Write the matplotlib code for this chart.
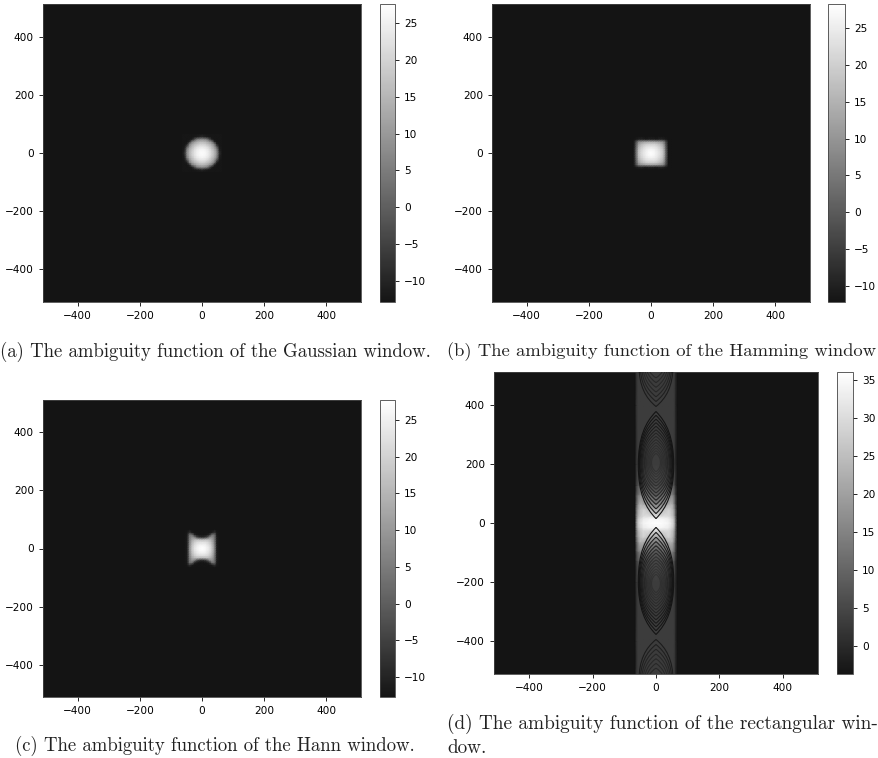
import numpy as np
import matplotlib
matplotlib.use("Agg")
import matplotlib.pyplot as plt
from matplotlib.colors import LinearSegmentedColormap
from matplotlib.path import Path
from matplotlib.patches import PathPatch

W, H = 879, 758
TICKS = [-400, -200, 0, 200, 400]

# --- values (dB), one quadrant of each symmetric blob ---
GRID_STEP = 8
gauss_db = [
    [27, 26.6, 25.5, 23, 19.5, 15, 8, -8, -12.5],
    [26.6, 26.3, 25, 22.5, 19, 14.5, 7, -10, -12.5],
    [25.5, 25, 23.5, 21, 17, 13, 5, -11, -12.5],
    [23, 22.5, 21, 18, 15, 9, -3, -12, -12.5],
    [19.5, 19, 17, 15, 11, 5, -11, -12.5, -12.5],
    [15, 14.5, 13, 9, 5, -10, -12.5, -12.5, -12.5],
    [8, 7, 5, -3, -11, -12.5, -12.5, -12.5, -12.5],
    [-8, -10, -11, -12, -12.5, -12.5, -12.5, -12.5, -12.5],
    [-12.5, -12.5, -12.5, -12.5, -12.5, -12.5, -12.5, -12.5, -12.5],
]
hamming_db = [
    [28, 27.5, 26, 24, 21.5, 17, 2, -12, -12.2],
    [27.5, 27, 25.5, 23.5, 21, 16.5, 2, -12, -12.2],
    [26, 25.5, 24.5, 22.5, 20, 15.5, 1, -12, -12.2],
    [23.5, 23.3, 22.5, 20.5, 18, 14, 0, -12, -12.2],
    [20, 19.8, 19, 17.5, 15.5, 11, -1, -12, -12.2],
    [12, 12, 11.5, 10.5, 9, 7, -3, -12, -12.2],
    [-10, -10, -11, -10, -9, -10, -11, -12, -12.2],
    [-12, -12, -12, -12, -12, -12, -12, -12.2, -12.2],
]
hann_db = [
    [27.5, 27, 25.5, 23, 18, 8, -11, -12.5],
    [27, 26.5, 25, 22.5, 17.5, 8, -11, -12.5],
    [25, 24.8, 23.5, 21, 16.5, 7, -11, -12.5],
    [22, 21.8, 21, 19, 14.5, 6, -11, -12.5],
    [15, 15.5, 16, 15, 12, 5, -11, -12.5],
    [-9, -8, -4, 6, 9, 4, -11, -12.5],
    [-12.5, -12.5, -12, -9, 3, 3, -11.5, -12.5],
    [-12.5, -12.5, -12.5, -12.5, -11, -7, -12, -12.5],
    [-12.5, -12.5, -12.5, -12.5, -12.5, -12.5, -12.5, -12.5],
]

# rectangular window: coarse level of the strip, one quadrant
rect_x = [0, 20, 40, 50, 56, 60, 63, 66]
rect_y = [0, 16, 24, 48, 64, 96, 128, 200, 400, 512]
rect_db = [
    [36, 35.5, 34, 31, 27, 20, 9, -3.7],
    [34, 34, 32.5, 29, 25, 18, 8, -3.7],
    [30, 30, 30, 27, 23, 16, 7, -3.7],
    [20, 24, 28, 25, 20, 14, 6, -3.7],
    [14, 17, 22, 23, 18, 11, 4, -3.7],
    [8, 10, 14, 15, 12, 8, 2, -3.7],
    [5, 5, 7, 8, 7, 4, 0, -3.7],
    [3, 3, 3, 3, 3, 2, -1, -3.7],
    [3, 3, 3, 3, 3, 2, -1, -3.7],
    [3, 3, 3, 3, 3, 2, -1, -3.7],
]
# dark interference rings of the rectangular window
ring_near = [15, 32, 48, 63, 77, 90, 102, 114, 125, 136, 146, 156, 165, 174,
             395, 412, 428, 444, 460, 476, 492]
ring_far = [378, 365, 352, 340, 328, 316, 305, 294, 283, 273, 263, 254, 245, 236,
            680, 670, 660, 650, 640, 630, 620]
ring_halfwidth = [56, 54, 52, 50, 47, 44, 41, 37, 34, 30, 26, 22, 18, 14,
                  54, 50, 46, 42, 38, 34, 30]
ring_alpha = [1, .95, .9, .85, .8, .7, .6, .5, .45, .4, .35, .3, .3, .3,
              .8, .7, .6, .5, .5, .5, .5]

cbar_ticks_a = [-10, -5, 0, 5, 10, 15, 20, 25]
cbar_ticks_d = [0, 5, 10, 15, 20, 25, 30, 35]
captions = {
    "a": "(a) The ambiguity function of the Gaussian window.",
    "b": "(b) The ambiguity function of the Hamming window",
    "c": "(c) The ambiguity function of the Hann window.",
    "d": "(d) The ambiguity function of the rectangular win-\ndow.",
}
ranges = {"a": (-12.9, 27.6), "b": (-12.2, 28.3), "c": (-12.7, 27.7), "d": (-3.7, 36)}

# --- layout in pixels: left, right, top, bottom ---
axes_px = {"a": (43, 361, 4, 302), "b": (492, 810, 4, 302),
           "c": (43, 361, 400, 697), "d": (494, 818, 372, 674)}
cbar_px = {"a": (380, 395), "b": (828, 845), "c": (380, 395), "d": (837, 853)}
caption_xy = {"a": (0, 351.5), "b": (447, 351.5), "c": (15, 746), "d": (447, 735.5)}
caption_size = {"a": 13.5, "b": 13.4, "c": 13.5, "d": 13.85}

plt.rcParams.update({"font.size": 7.6, "axes.linewidth": 0.6,
                     "xtick.major.size": 3, "ytick.major.size": 3,
                     "xtick.major.width": 0.6, "ytick.major.width": 0.6,
                     "axes.edgecolor": "#444444"})
cmap = LinearSegmentedColormap.from_list("dk", ["#141414", "#ffffff"])
fig = plt.figure(figsize=(W / 100, H / 100), dpi=100)


def px_axes(l, r, t, b):
    return fig.add_axes([l / W, 1 - b / H, (r - l) / W, (b - t) / H])


def full_from_quadrant(q):
    q = np.asarray(q, float)
    q = np.hstack([q[:, :0:-1], q])
    return np.vstack([q[:0:-1], q])


def rings(ax):
    for near, far, w, al in zip(ring_near, ring_far, ring_halfwidth, ring_alpha):
        mid = (near + far) / 2
        h = far - near
        for s in (1, -1):
            verts = [(0, near), (.6 * w, near + .1 * h), (w, near + .24 * h), (w, mid),
                     (w, far - .24 * h), (.6 * w, far - .1 * h), (0, far),
                     (-.6 * w, far - .1 * h), (-w, far - .24 * h), (-w, mid),
                     (-w, near + .24 * h), (-.6 * w, near + .1 * h), (0, near)]
            verts = [(x, s * y) for x, y in verts]
            codes = [Path.MOVETO] + [Path.CURVE4] * 12
            ax.add_patch(PathPatch(Path(verts, codes), fc="none", ec="#141414",
                                   lw=0.8, alpha=al, zorder=3))


for key in "abcd":
    ax = px_axes(*axes_px[key])
    vmin, vmax = ranges[key]
    ax.set_facecolor(cmap(0.0))
    if key == "d":
        xs = np.array(rect_x, float)
        ys = np.array(rect_y, float)
        X = np.r_[-xs[:0:-1], xs]
        Y = np.r_[-ys[:0:-1], ys]
        im = ax.pcolormesh(X, Y, full_from_quadrant(rect_db), cmap=cmap, vmin=vmin,
                           vmax=vmax, shading="gouraud", rasterized=True)
        rings(ax)
    else:
        q = {"a": gauss_db, "b": hamming_db, "c": hann_db}[key]
        data = full_from_quadrant(q)
        ny, nx = data.shape
        ex = GRID_STEP * (nx - 1) / 2
        ey = GRID_STEP * (ny - 1) / 2
        X = np.linspace(-ex, ex, nx)
        Y = np.linspace(-ey, ey, ny)
        im = ax.pcolormesh(X, Y, data, cmap=cmap, vmin=vmin, vmax=vmax,
                           shading="gouraud", rasterized=True)
    ax.set_xlim(-512, 512)
    ax.set_ylim(-512, 512)
    ax.set_xticks(TICKS)
    ax.set_yticks(TICKS)
    l, r = cbar_px[key]
    t, b = axes_px[key][2:]
    cax = px_axes(l, r, t, b)
    cb = fig.colorbar(im, cax=cax, ticks=cbar_ticks_d if key == "d" else cbar_ticks_a)
    cb.outline.set_linewidth(0.6)
    cx, cy = caption_xy[key]
    fig.text(cx / W, 1 - cy / H, captions[key], family="cmr10", fontsize=caption_size[key],
             va="center", ha="left", color="#222222", linespacing=1.39)

fig.savefig("out.png", dpi=100)
